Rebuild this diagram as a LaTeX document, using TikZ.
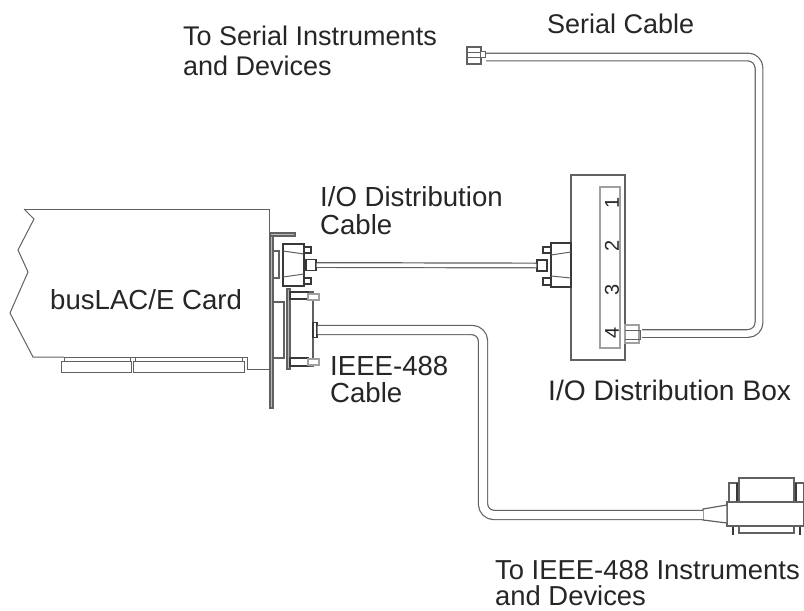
\documentclass[tikz,border=0pt]{standalone}
\usepackage{fontspec}
\setmainfont{Liberation Sans}
\definecolor{ink}{gray}{0.15}
\definecolor{lin}{gray}{0.38}
\tikzset{
  x=1pt,y=-1pt,
  lbl/.style={anchor=base west,inner sep=0pt,text=ink,font=\fontsize{27.6}{30}\selectfont},
  lbl small/.style={lbl,font=\fontsize{27}{30}\selectfont},
  num/.style={anchor=center,inner sep=0pt,text=ink,rotate=90,font=\fontsize{20}{22}\selectfont},
  part/.style={draw=lin,line width=1.2pt,fill=white},
  dark/.style={draw=ink!70!lin,line width=1.4pt,fill=white},
  faint/.style={draw=lin!60,line width=1.1pt,fill=white},
  plate/.style={draw=lin,line width=1.3pt,fill=lin!45},
  thin part/.style={draw=lin,line width=1pt},
  plug/.style={draw=ink!70!lin,line width=1.3pt,fill=white,inner sep=0pt,minimum width=10pt,minimum height=11pt},
  cable/.style={draw=lin,line width=1.2pt,double=white,double distance=#1,line join=round,rounded corners=11pt},
}
\begin{document}
\begin{tikzpicture}
\useasboundingbox (0,0) rectangle (804,611);
% ---- card outline
\draw[thin part] (24,209) -- (269,209) -- (269,233);
\draw[thin part] (24,209) -- (34,219) -- (18,250) -- (28,272) -- (10,313) -- (33,357) -- (64,357);
\draw[thin part] (64,357) -- (64,361) -- (61,361) -- (61,372) -- (131,372) -- (131,361) -- (61,361);
\draw[thin part] (64,357) -- (130,357) -- (130,361);
\draw[thin part] (130,357) -- (135,357) -- (135,361);
\draw[thin part] (133,372) -- (133,361) -- (244,361) -- (244,372) -- cycle;
\draw[thin part] (135,357) -- (242,357) -- (242,361);
\draw[thin part] (242,357) -- (247,357) -- (247,369) -- (269,369);
% ---- bracket
\draw[plate] (270,233) rectangle (273,408);
\draw[plate] (270,233) rectangle (295,236);
\draw[part] (273,251) rectangle (279,278);
\draw[part] (273,302) rectangle (284,358);
% ---- upper D connector on card
\draw[dark] (283,244) rectangle (304,286);
\draw[thin part] (283,251) -- (304,254);
\draw[thin part] (283,277) -- (304,274);
\draw[dark] (304,247) rectangle (311,253);
\draw[dark] (304,278) rectangle (311,284);
\node[plug] (ioplugA) at (311,265) {};
% ---- lower connector on card
\draw[plate] (287,289) rectangle (290,369);
\draw[part] (290,292) rectangle (313,366);
\draw[dark] (290,292) rectangle (308,299);
\draw[dark] (290,358) rectangle (308,366);
\draw[faint] (308,294) rectangle (319,300);
\draw[faint] (308,359) rectangle (319,365);
\node[plug,minimum width=4pt,minimum height=15pt] (ieeeplugA) at (315,330) {};
% ---- distribution box
\node[part,inner sep=0pt,minimum width=54pt,minimum height=185pt] (iobox) at (598,267.5) {};
\node[faint,inner sep=0pt,minimum width=20pt,minimum height=161pt] (strip) at (610,267.5) {};
\node[num] (n1) at (612,203) {1};
\node[num] (n2) at (612,246) {2};
\node[num] (n3) at (612,290) {3};
\node[num] (n4) at (612,333) {4};
% left connector of box
\draw[dark] (551,243) rectangle (571,287);
\draw[thin part] (551,255) -- (571,252);
\draw[thin part] (551,276) -- (571,278);
\draw[dark] (543,247) rectangle (551,253);
\draw[dark] (543,278) rectangle (551,285);
\node[plug] (ioplugB) at (542,265.5) {};
% right connector of box
\draw[faint] (625,325) rectangle (639,343);
\draw[thin part] (625,330) -- (640,330) -- (640,339) -- (625,339);
\node[inner sep=0pt,minimum width=2pt,minimum height=9pt] (serialend) at (641,333.5) {};
% serial plug
\draw[part] (467,47) rectangle (481,64);
\draw[thin part] (467,52) -- (481,52);
\draw[thin part] (467,57) -- (481,57);
\node[draw=lin,line width=1pt,fill=white,inner sep=0pt,minimum width=5pt,minimum height=6pt] (serialplug) at (483,54) {};
% ---- IEEE far connector
\draw[part] (729,483) rectangle (737,502);
\draw[part] (796,483) rectangle (804,502);
\draw[part] (739,478) rectangle (794,502);
\draw[dark] (737,483) -- (737,502);
\draw[dark] (796,483) -- (796,502);
\draw[part] (739,526) -- (739,533) -- (794,533) -- (794,526);
\draw[dark] (733,526) -- (733,535);
\draw[dark] (800,526) -- (800,535);
\node[dark,draw=lin,inner sep=0pt,minimum width=77pt,minimum height=24pt] (ieeebody) at (765.5,514) {};
\draw[part] (703,509) -- (727,505) -- (727,523) -- (703,520) -- cycle;
\coordinate (ieeeneck) at (703,515);
% ---- cables
\draw[cable=3.5pt] (ioplugA.east) -- (ioplugB.west);
\draw[cable=8pt] (ieeeplugA.east) -- (483,330) -- (483,515) -- (ieeeneck);
\draw[cable=6.5pt] (serialend.east) -- (759,333.5) -- (759,57) -- (serialplug.east |- 0,57);
% ---- labels
\node[lbl small] (tserial) at (183,45) {To Serial Instruments};
\node[lbl small] (tserial2) at (183,75) {and Devices};
\node[lbl small] (tcable) at (547,33) {Serial Cable};
\node[lbl] (tio) at (320,206) {I/O Distribution};
\node[lbl] (tio2) at (320,234) {Cable};
\node[lbl] (tcard) at (50,309) {busLAC/E Card};
\node[lbl] (tieee) at (330,375) {IEEE-488};
\node[lbl] (tieee2) at (330,402) {Cable};
\node[lbl,font=\fontsize{28.2}{30}\selectfont] (tbox) at (548,400) {I/O Distribution Box};
\node[lbl,font=\fontsize{27.4}{30}\selectfont] (tinst) at (495,579) {To IEEE-488 Instruments};
\node[lbl,font=\fontsize{27.4}{30}\selectfont] (tinst2) at (495,605) {and Devices};
\end{tikzpicture}
\end{document}
